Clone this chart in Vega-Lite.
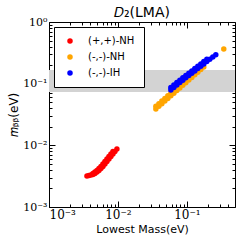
{
  "$schema": "https://vega.github.io/schema/vega-lite/v6.json",
  "width": 186,
  "height": 185,
  "autosize": {"type": "none"},
  "padding": {"left": 49, "top": 22, "right": 5, "bottom": 36},
  "background": "white",
  "title": {"text": "𝐷₂(LMA)", "font": "DejaVu Sans", "fontSize": 14, "fontWeight": "normal", "offset": -4, "color": "black"},
  "config": {
    "view": {"stroke": null},
    "axis": {"grid": false, "domainColor": "black", "tickColor": "black", "labelColor": "black", "titleColor": "black", "domainWidth": 1, "tickWidth": 1}
  },
  "datasets": {
    "pts": [
      {"m": 0.003554, "mb": 0.003192, "case": "(+,+)-NH"},
      {"m": 0.003799, "mb": 0.003251, "case": "(+,+)-NH"},
      {"m": 0.004062, "mb": 0.003313, "case": "(+,+)-NH"},
      {"m": 0.004342, "mb": 0.003376, "case": "(+,+)-NH"},
      {"m": 0.004642, "mb": 0.003505, "case": "(+,+)-NH"},
      {"m": 0.004962, "mb": 0.003707, "case": "(+,+)-NH"},
      {"m": 0.005304, "mb": 0.003920, "case": "(+,+)-NH"},
      {"m": 0.005670, "mb": 0.004223, "case": "(+,+)-NH"},
      {"m": 0.006062, "mb": 0.004550, "case": "(+,+)-NH"},
      {"m": 0.006480, "mb": 0.004995, "case": "(+,+)-NH"},
      {"m": 0.006928, "mb": 0.005485, "case": "(+,+)-NH"},
      {"m": 0.007406, "mb": 0.006023, "case": "(+,+)-NH"},
      {"m": 0.007917, "mb": 0.006614, "case": "(+,+)-NH"},
      {"m": 0.008463, "mb": 0.007262, "case": "(+,+)-NH"},
      {"m": 0.009047, "mb": 0.007975, "case": "(+,+)-NH"},
      {"m": 0.009672, "mb": 0.008752, "case": "(+,+)-NH"},
      {"m": 0.004342, "mb": 0.003505, "case": "(+,+)-NH"},
      {"m": 0.004642, "mb": 0.003707, "case": "(+,+)-NH"},
      {"m": 0.004962, "mb": 0.003920, "case": "(+,+)-NH"},
      {"m": 0.005304, "mb": 0.004223, "case": "(+,+)-NH"},
      {"m": 0.005670, "mb": 0.004550, "case": "(+,+)-NH"},
      {"m": 0.006062, "mb": 0.004995, "case": "(+,+)-NH"},
      {"m": 0.006480, "mb": 0.005485, "case": "(+,+)-NH"},
      {"m": 0.006928, "mb": 0.006023, "case": "(+,+)-NH"},
      {"m": 0.007406, "mb": 0.006614, "case": "(+,+)-NH"},
      {"m": 0.007917, "mb": 0.007262, "case": "(+,+)-NH"},
      {"m": 0.008463, "mb": 0.007975, "case": "(+,+)-NH"},
      {"m": 0.03554, "mb": 0.03890, "case": "(-,-)-NH"},
      {"m": 0.03929, "mb": 0.04290, "case": "(-,-)-NH"},
      {"m": 0.04342, "mb": 0.04732, "case": "(-,-)-NH"},
      {"m": 0.04799, "mb": 0.05220, "case": "(-,-)-NH"},
      {"m": 0.05304, "mb": 0.05757, "case": "(-,-)-NH"},
      {"m": 0.05863, "mb": 0.06350, "case": "(-,-)-NH"},
      {"m": 0.06480, "mb": 0.07004, "case": "(-,-)-NH"},
      {"m": 0.07163, "mb": 0.07722, "case": "(-,-)-NH"},
      {"m": 0.07917, "mb": 0.08518, "case": "(-,-)-NH"},
      {"m": 0.08750, "mb": 0.09394, "case": "(-,-)-NH"},
      {"m": 0.09672, "mb": 0.1036, "case": "(-,-)-NH"},
      {"m": 0.1069, "mb": 0.1143, "case": "(-,-)-NH"},
      {"m": 0.1182, "mb": 0.1260, "case": "(-,-)-NH"},
      {"m": 0.1306, "mb": 0.1390, "case": "(-,-)-NH"},
      {"m": 0.1443, "mb": 0.1533, "case": "(-,-)-NH"},
      {"m": 0.1595, "mb": 0.1691, "case": "(-,-)-NH"},
      {"m": 0.1763, "mb": 0.1865, "case": "(-,-)-NH"},
      {"m": 0.03554, "mb": 0.04290, "case": "(-,-)-NH"},
      {"m": 0.03929, "mb": 0.04732, "case": "(-,-)-NH"},
      {"m": 0.04342, "mb": 0.05220, "case": "(-,-)-NH"},
      {"m": 0.04799, "mb": 0.05757, "case": "(-,-)-NH"},
      {"m": 0.05304, "mb": 0.06350, "case": "(-,-)-NH"},
      {"m": 0.05863, "mb": 0.07004, "case": "(-,-)-NH"},
      {"m": 0.06480, "mb": 0.07722, "case": "(-,-)-NH"},
      {"m": 0.07163, "mb": 0.08518, "case": "(-,-)-NH"},
      {"m": 0.07917, "mb": 0.09394, "case": "(-,-)-NH"},
      {"m": 0.08750, "mb": 0.1036, "case": "(-,-)-NH"},
      {"m": 0.09672, "mb": 0.1143, "case": "(-,-)-NH"},
      {"m": 0.1069, "mb": 0.1260, "case": "(-,-)-NH"},
      {"m": 0.1182, "mb": 0.1390, "case": "(-,-)-NH"},
      {"m": 0.1306, "mb": 0.1533, "case": "(-,-)-NH"},
      {"m": 0.3437, "mb": 0.365, "case": "(-,-)-NH"},
      {"m": 0.05863, "mb": 0.07905, "case": "(-,-)-IH"},
      {"m": 0.06480, "mb": 0.08679, "case": "(-,-)-IH"},
      {"m": 0.07163, "mb": 0.09526, "case": "(-,-)-IH"},
      {"m": 0.07917, "mb": 0.1042, "case": "(-,-)-IH"},
      {"m": 0.08750, "mb": 0.1139, "case": "(-,-)-IH"},
      {"m": 0.09672, "mb": 0.1242, "case": "(-,-)-IH"},
      {"m": 0.1069, "mb": 0.1353, "case": "(-,-)-IH"},
      {"m": 0.1182, "mb": 0.1474, "case": "(-,-)-IH"},
      {"m": 0.1306, "mb": 0.1607, "case": "(-,-)-IH"},
      {"m": 0.1443, "mb": 0.1757, "case": "(-,-)-IH"},
      {"m": 0.1595, "mb": 0.1914, "case": "(-,-)-IH"},
      {"m": 0.1763, "mb": 0.2086, "case": "(-,-)-IH"},
      {"m": 0.1950, "mb": 0.2282, "case": "(-,-)-IH"},
      {"m": 0.2154, "mb": 0.2486, "case": "(-,-)-IH"},
      {"m": 0.2381, "mb": 0.2708, "case": "(-,-)-IH"},
      {"m": 0.2633, "mb": 0.2951, "case": "(-,-)-IH"},
      {"m": 0.05863, "mb": 0.08679, "case": "(-,-)-IH"},
      {"m": 0.06480, "mb": 0.09526, "case": "(-,-)-IH"},
      {"m": 0.07163, "mb": 0.1042, "case": "(-,-)-IH"},
      {"m": 0.07917, "mb": 0.1139, "case": "(-,-)-IH"},
      {"m": 0.08750, "mb": 0.1242, "case": "(-,-)-IH"},
      {"m": 0.09672, "mb": 0.1353, "case": "(-,-)-IH"},
      {"m": 0.1069, "mb": 0.1474, "case": "(-,-)-IH"},
      {"m": 0.1182, "mb": 0.1607, "case": "(-,-)-IH"},
      {"m": 0.1306, "mb": 0.1757, "case": "(-,-)-IH"},
      {"m": 0.1443, "mb": 0.1914, "case": "(-,-)-IH"},
      {"m": 0.1595, "mb": 0.2086, "case": "(-,-)-IH"},
      {"m": 0.1763, "mb": 0.2282, "case": "(-,-)-IH"},
      {"m": 0.1950, "mb": 0.2486, "case": "(-,-)-IH"}
    ],
    "band": [{"lo": 0.073, "hi": 0.167}]
  },
  "resolve": {"axis": {"x": "independent", "y": "independent"}},
  "layer": [
    {
      "data": {"name": "band"},
      "mark": {"type": "rect", "color": "#d3d3d3"},
      "encoding": {
        "y": {"field": "lo", "type": "quantitative", "scale": {"type": "log", "domain": [0.001, 1], "nice": false}, "axis": null},
        "y2": {"field": "hi"}
      }
    },
    {
      "data": {"name": "pts"},
      "mark": {"type": "circle", "size": 30, "opacity": 1},
      "encoding": {
        "x": {"field": "m", "type": "quantitative", "scale": {"type": "log", "domain": [0.001, 0.5], "nice": false},
          "axis": {"orient": "bottom", "values": [0.001, 0.01, 0.1], "labelExpr": "datum.value < 0.005 ? '10⁻³' : datum.value < 0.05 ? '10⁻²' : '10⁻¹'", "tickSize": -6, "labelPadding": 8, "labelFont": "DejaVu Serif", "labelFontSize": 12, "title": "Lowest Mass(eV)", "titleFont": "DejaVu Sans", "titleFontSize": 11, "titleFontWeight": "normal", "titlePadding": 3}},
        "y": {"field": "mb", "type": "quantitative", "scale": {"type": "log", "domain": [0.001, 1], "nice": false},
          "axis": {"orient": "left", "values": [0.001, 0.01, 0.1, 1], "labelExpr": "datum.value < 0.005 ? '10⁻³' : datum.value < 0.05 ? '10⁻²' : datum.value < 0.5 ? '10⁻¹' : '10⁰'", "tickSize": -6, "labelPadding": 8, "labelFont": "DejaVu Serif", "labelFontSize": 11, "title": "𝑚ᵦᵦ(eV)", "titleFont": "DejaVu Sans", "titleFontSize": 12, "titleFontWeight": "normal", "titlePadding": 2}},
        "color": {"field": "case", "type": "nominal", "scale": {"domain": ["(+,+)-NH", "(-,-)-NH", "(-,-)-IH"], "range": ["#ff0000", "#ffa500", "#0000ff"]},
          "legend": {"orient": "none", "legendX": 5, "legendY": 5, "title": null, "strokeColor": "black", "fillColor": "white", "padding": 9, "symbolType": "circle", "symbolSize": 30, "symbolOffset": 2, "labelFont": "DejaVu Sans", "labelFontSize": 10, "labelOffset": 13, "rowPadding": 6, "labelColor": "black"}}
      }
    },
    {
      "data": {"name": "pts"},
      "mark": {"type": "circle", "opacity": 0},
      "encoding": {
        "x": {"field": "m", "type": "quantitative", "scale": {"type": "log", "domain": [0.001, 0.5], "nice": false},
          "axis": {"orient": "bottom", "values": [0.002, 0.003, 0.004, 0.005, 0.006, 0.007, 0.008, 0.009, 0.02, 0.03, 0.04, 0.05, 0.06, 0.07, 0.08, 0.09, 0.2, 0.3, 0.4], "labels": false, "domain": false, "tickSize": -3, "title": null}},
        "y": {"field": "mb", "type": "quantitative", "scale": {"type": "log", "domain": [0.001, 1], "nice": false},
          "axis": {"orient": "left", "values": [0.002, 0.003, 0.004, 0.005, 0.006, 0.007, 0.008, 0.009, 0.02, 0.03, 0.04, 0.05, 0.06, 0.07, 0.08, 0.09, 0.2, 0.3, 0.4, 0.5, 0.6, 0.7, 0.8, 0.9], "labels": false, "domain": false, "tickSize": -3, "title": null}}
      }
    },
    {
      "data": {"name": "pts"},
      "mark": {"type": "circle", "opacity": 0},
      "encoding": {
        "x": {"field": "m", "type": "quantitative", "scale": {"type": "log", "domain": [0.001, 0.5], "nice": false},
          "axis": {"orient": "top", "values": [0.001, 0.01, 0.1], "labels": false, "tickSize": -6, "title": null}},
        "y": {"field": "mb", "type": "quantitative", "scale": {"type": "log", "domain": [0.001, 1], "nice": false},
          "axis": {"orient": "right", "values": [0.001, 0.01, 0.1, 1], "labels": false, "tickSize": -6, "title": null}}
      }
    },
    {
      "data": {"name": "pts"},
      "mark": {"type": "circle", "opacity": 0},
      "encoding": {
        "x": {"field": "m", "type": "quantitative", "scale": {"type": "log", "domain": [0.001, 0.5], "nice": false},
          "axis": {"orient": "top", "values": [0.002, 0.003, 0.004, 0.005, 0.006, 0.007, 0.008, 0.009, 0.02, 0.03, 0.04, 0.05, 0.06, 0.07, 0.08, 0.09, 0.2, 0.3, 0.4], "labels": false, "domain": false, "tickSize": -3, "title": null}},
        "y": {"field": "mb", "type": "quantitative", "scale": {"type": "log", "domain": [0.001, 1], "nice": false},
          "axis": {"orient": "right", "values": [0.002, 0.003, 0.004, 0.005, 0.006, 0.007, 0.008, 0.009, 0.02, 0.03, 0.04, 0.05, 0.06, 0.07, 0.08, 0.09, 0.2, 0.3, 0.4, 0.5, 0.6, 0.7, 0.8, 0.9], "labels": false, "domain": false, "tickSize": -3, "title": null}}
      }
    }
  ]
}
